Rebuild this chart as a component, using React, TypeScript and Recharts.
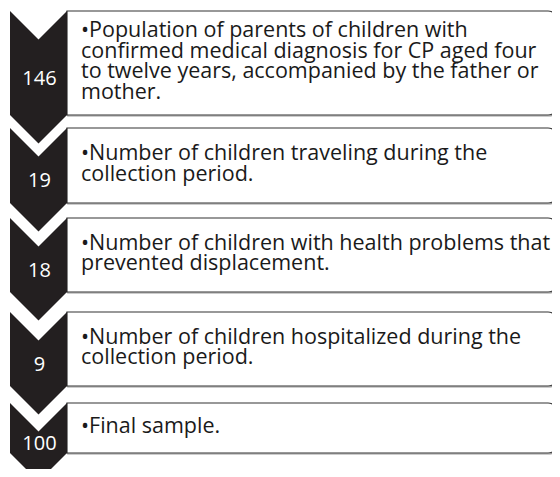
import React from 'react';
import { BarChart, Bar, XAxis, YAxis } from 'recharts';

// ---- data ----
const counts = [146, 19, 18, 9, 100];
const descriptions: string[][] = [
  [
    '•Population of parents of children with',
    'confirmed medical diagnosis for CP aged four',
    'to twelve years, accompanied by the father or',
    'mother.',
  ],
  ['•Number of children traveling during the', 'collection period.'],
  ['•Number of children with health problems that', 'prevented displacement.'],
  ['•Number of children hospitalized during the', 'collection period.'],
  ['•Final sample.'],
];

// ---- layout / style (not data) ----
const BOX_UNITS = [104, 75, 74, 74, 50];
const GAP_UNITS = [13, 15, 20, 17, 0];
const SPANS = BOX_UNITS.map((b, i) => b + GAP_UNITS[i]);
const TOTAL = SPANS.reduce((a, b) => a + b, 0);

const W = 560;
const H = 477;
const CHEVRON_W = 57;
const DEPTH = 28.5;
const RADIUS = 10;
const FONT = '"Open Sans", Lato, sans-serif';
const FONT_SIZE = 21.5;
const NUM_SIZE = 20;
const LINE_H = 20.5;

const row: Record<string, number | string> = { name: 'flow' };
SPANS.forEach((s, i) => {
  row[`s${i}`] = s;
});
const chartData = [row];

function StepShape(props: any) {
  const { x, y, width, height, step } = props;
  const top = Math.min(y, y + height);
  const segH = Math.abs(height);
  const boxH = (segH * BOX_UNITS[step]) / SPANS[step];
  const bottom = top + boxH;
  const x0 = x;
  const x1 = x + CHEVRON_W;
  const xc = x + CHEVRON_W / 2;
  const xr = x + width - 1;

  const chevron = `M${x0},${top} L${xc},${top + DEPTH} L${x1},${top} L${x1},${bottom} L${xc},${bottom + DEPTH} L${x0},${bottom} Z`;
  const boxPath = (dy: number) =>
    `M${x1},${top + dy} H${xr - RADIUS} A${RADIUS},${RADIUS} 0 0 1 ${xr},${top + dy + RADIUS} V${bottom + dy - RADIUS} A${RADIUS},${RADIUS} 0 0 1 ${xr - RADIUS},${bottom + dy} H${x1} Z`;

  const lines = descriptions[step];
  const cy = (top + bottom) / 2;
  const firstBase = cy + 5 - ((lines.length - 1) * LINE_H) / 2;
  const numY = (top + DEPTH + bottom) / 2;

  return (
    <g>
      <path d={boxPath(1)} fill="none" stroke="#9a9a9a" strokeWidth={1.2} transform="translate(0.8,0)" />
      <path d={boxPath(0)} fill="#ffffff" stroke="#333333" strokeWidth={1.2} />
      <path d={chevron} fill="#231f20" />
      <text
        x={xc + 1}
        y={numY}
        textAnchor="middle"
        dominantBaseline="central"
        fill="#ffffff"
        fontFamily={FONT}
        fontSize={NUM_SIZE}
      >
        {counts[step]}
      </text>
      {lines.map((ln, i) => (
        <text
          key={i}
          x={x1 + 14}
          y={firstBase + i * LINE_H}
          fill="#1a1a1a"
          fontFamily={FONT}
          fontSize={FONT_SIZE}
        >
          {ln}
        </text>
      ))}
    </g>
  );
}

export default function App() {
  return (
    <div style={{ width: W, height: H, margin: -8, background: '#fff' }}>
      <BarChart
        width={W}
        height={H}
        data={chartData}
        margin={{ top: 11, right: 1, left: 10, bottom: H - 11 - TOTAL }}
        barCategoryGap={0}
        barGap={0}
      >
        <XAxis dataKey="name" type="category" hide />
        <YAxis type="number" domain={[0, TOTAL]} reversed hide />
        {SPANS.map((_, i) => (
          <Bar
            key={i}
            dataKey={`s${i}`}
            stackId="flow"
            isAnimationActive={false}
            shape={(p: any) => <StepShape {...p} step={i} />}
          />
        ))}
      </BarChart>
    </div>
  );
}
